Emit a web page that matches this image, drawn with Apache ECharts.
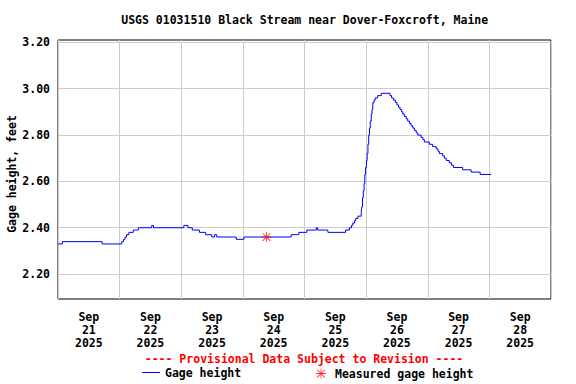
<!DOCTYPE html>
<html>
<head>
<meta charset="utf-8">
<script src="https://cdn.jsdelivr.net/npm/echarts@6/dist/echarts.min.js"></script>
<style>html,body{margin:0;padding:0;background:#fff;}#c{width:576px;height:384px;}</style>
</head>
<body>
<div id="c"></div>
<script>
// Hours since Sep 21 2025 00:00 (value holds until next entry)
const gageHours = [0.0, 1.7, 17.2, 24.8, 25.5, 26.1, 26.7, 27.6, 29.3, 31.3, 36.5, 37.2, 49.0, 50.6, 52.3, 55.1, 57.5, 59.9, 61.0, 61.8, 69.4, 72.4, 90.8, 93.8, 96.9, 100.6, 101.1, 105.1, 112.0, 113.5, 114.3, 114.8, 115.5, 115.9, 116.8, 118.1, 118.3, 118.6, 118.9, 119.2, 119.5, 119.8, 120.1, 120.4, 120.7, 121.0, 121.3, 121.6, 122.0, 122.3, 122.6, 123.1, 123.5, 124.5, 125.9, 129.3, 129.9, 130.7, 131.4, 132.0, 132.6, 133.2, 133.8, 134.3, 134.9, 135.6, 136.2, 136.9, 137.5, 138.2, 138.8, 139.5, 140.1, 141.4, 142.1, 142.7, 144.6, 145.9, 147.3, 148.0, 148.5, 149.8, 150.5, 151.2, 152.4, 153.3, 154.0, 157.6, 160.9, 164.4, 168.7];
const gageFeet = [2.33, 2.34, 2.33, 2.34, 2.35, 2.36, 2.37, 2.38, 2.39, 2.40, 2.41, 2.40, 2.41, 2.40, 2.39, 2.38, 2.37, 2.36, 2.37, 2.36, 2.35, 2.36, 2.37, 2.38, 2.39, 2.40, 2.39, 2.38, 2.39, 2.40, 2.41, 2.42, 2.43, 2.44, 2.45, 2.47, 2.49, 2.53, 2.56, 2.59, 2.63, 2.66, 2.69, 2.72, 2.76, 2.80, 2.83, 2.86, 2.89, 2.91, 2.94, 2.95, 2.96, 2.97, 2.98, 2.97, 2.96, 2.95, 2.94, 2.93, 2.92, 2.91, 2.90, 2.89, 2.88, 2.87, 2.86, 2.85, 2.84, 2.83, 2.82, 2.81, 2.80, 2.79, 2.78, 2.77, 2.76, 2.75, 2.74, 2.73, 2.72, 2.71, 2.70, 2.69, 2.68, 2.67, 2.66, 2.65, 2.64, 2.63, 2.63];
const measuredHours = [81.2];
const measuredFeet = [2.36];
const yTicks = [2.2, 2.4, 2.6, 2.8, 3.0, 3.2];
const dayHours = [12, 36, 60, 84, 108, 132, 156, 180];
const dayLabels = ['Sep\n21\n2025', 'Sep\n22\n2025', 'Sep\n23\n2025', 'Sep\n24\n2025', 'Sep\n25\n2025', 'Sep\n26\n2025', 'Sep\n27\n2025', 'Sep\n28\n2025'];
const titleText = 'USGS 01031510 Black Stream near Dover-Foxcroft, Maine';
const yName = 'Gage height, feet';
const provisionalText = '---- Provisional Data Subject to Revision ----';

const FONT = '"DejaVu Sans Mono", monospace';
const asterisk = 'path://M11,0H13V24H11Z M0,11H24V13H0Z M3.5,2.1L21.9,20.5L20.5,21.9L2.1,3.5Z M2.1,20.5L20.5,2.1L21.9,3.5L3.5,21.9Z';

const chart = echarts.init(document.getElementById('c'), null, {renderer: 'svg'});
chart.setOption({
  animation: false,
  backgroundColor: '#ffffff',
  grid: {left: 58, right: 25, top: 40, bottom: 85, show: true, borderColor: '#000', borderWidth: 1, backgroundColor: 'transparent', containLabel: false, outerBoundsMode: 'none'},
  xAxis: [
    {type: 'value', min: 0, max: 192, interval: 24,
     axisLine: {show: false}, axisTick: {show: false}, axisLabel: {show: false},
     splitLine: {show: true, lineStyle: {color: '#cccccc', width: 1}}},
    {type: 'value', min: 0, max: 192, position: 'bottom',
     axisLine: {show: false}, axisTick: {show: false, customValues: dayHours},
     splitLine: {show: false},
     axisLabel: {show: true, customValues: dayHours, margin: 11, color: '#000', fontFamily: FONT, fontWeight: 'bold', fontSize: 11.5, lineHeight: 13,
       formatter: function (v) { const i = dayHours.indexOf(Math.round(v)); return i >= 0 ? dayLabels[i] : ''; }}}
  ],
  yAxis: [{
    type: 'value', min: 2.0925, max: 3.21,
    axisLine: {show: false},
    axisTick: {show: false, customValues: yTicks},
    axisLabel: {show: true, customValues: yTicks, margin: 8, color: '#000', fontFamily: FONT, fontWeight: 'bold', fontSize: 11.5,
      formatter: function (v) { return v.toFixed(2); }},
    splitLine: {show: true, lineStyle: {color: '#cccccc', width: 1}}
  }],
  legend: [
    {data: [{name: 'Gage height', icon: 'rect'}], left: 142, top: 366.5, itemWidth: 18, itemHeight: 1, selectedMode: false, padding: 0,
     itemStyle: {color: '#0000ff', borderWidth: 0},
     textStyle: {color: '#000', fontFamily: FONT, fontWeight: 'bold', fontSize: 11.5}},
    {data: ['Measured gage height'], left: 316, top: 367.5, itemWidth: 10, itemHeight: 10, selectedMode: false, padding: 0,
     textStyle: {color: '#000', fontFamily: FONT, fontWeight: 'bold', fontSize: 11.5, padding: [0, 0, 0, 4]}}
  ],
  graphic: [
    {type: 'text', x: 304.7, y: 20, style: {text: titleText, fill: '#000', font: 'bold 11.5px ' + FONT, textAlign: 'center', textVerticalAlign: 'middle'}},
    {type: 'text', x: 12, y: 174, rotation: Math.PI / 2, style: {text: yName, fill: '#000', font: 'bold 11.5px ' + FONT, textAlign: 'center', textVerticalAlign: 'middle'}},
    {type: 'text', x: 304, y: 359, style: {text: provisionalText, fill: '#ff0000', font: 'bold 11.5px ' + FONT, textAlign: 'center', textVerticalAlign: 'middle'}}
  ],
  series: [
    {name: 'Gage height', type: 'line', step: 'end', symbol: 'none', xAxisIndex: 0, yAxisIndex: 0,
     lineStyle: {color: '#0000ff', width: 1}, itemStyle: {color: '#0000ff'},
     data: gageHours.map((h, i) => [h, gageFeet[i]])},
    {name: 'Measured gage height', type: 'scatter', symbol: asterisk, symbolSize: 10, xAxisIndex: 0, yAxisIndex: 0,
     itemStyle: {color: '#ff0000'}, z: 5,
     data: measuredHours.map((h, i) => [h, measuredFeet[i]])}
  ]
});
</script>
</body>
</html>
